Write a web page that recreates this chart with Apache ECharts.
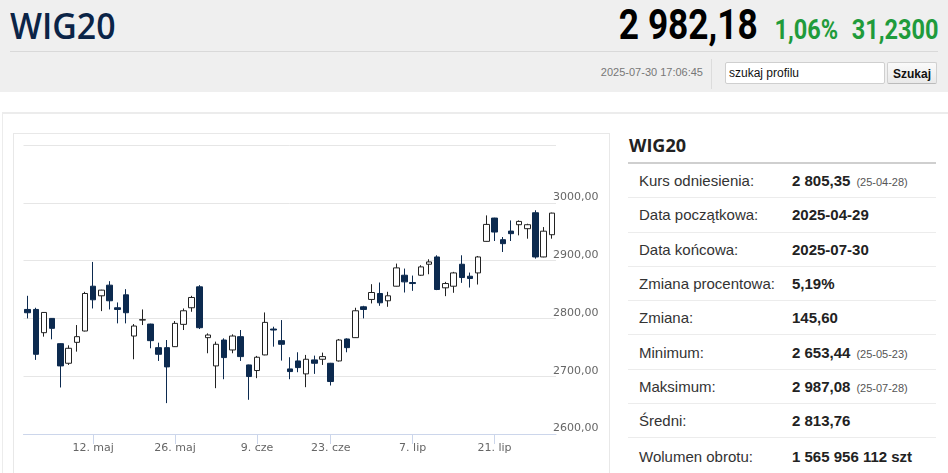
<!DOCTYPE html>
<html>
<head>
<meta charset="utf-8">
<script src="https://cdn.jsdelivr.net/npm/echarts@6/dist/echarts.min.js"></script>
<style>
  html, body { margin:0; padding:0; background:#fff; width:948px; height:473px; overflow:hidden; font-family:"Liberation Sans", Arial, sans-serif; }
  .abs { position:absolute; }
  #hdr { left:0; top:0; width:948px; height:92px; background:#efefef; }
  #title { left:10px; top:1px; font-family:"Open Sans", sans-serif; font-weight:600; font-size:36px; color:#0b2447; transform:scaleX(0.94); transform-origin:left; white-space:nowrap; }
  #hline { left:10px; top:51px; width:928px; height:1px; background:#d9d9d9; }
  #quote { right:10px; top:0px; white-space:nowrap; transform:scaleX(0.84); transform-origin:right; font-family:Roboto, sans-serif; }
  #price { font-size:42px; font-weight:700; color:#000; }
  .grn { font-size:28px; font-weight:700; color:#1f9b3b; margin-left:20px; }
  #stamp { left:560px; width:143px; top:66px; text-align:right; font-size:11px; color:#777; }
  #vsep { left:711px; top:59px; width:1px; height:30px; background:#dcdcdc; }
  #search { left:725px; top:62px; width:155px; height:20px; border:1px solid #cfcfcf; border-radius:2px; background:#fff; font-size:12px; line-height:20px; color:#111; padding-left:3px; box-sizing:content-box; }
  #btn { left:887px; top:62px; width:50px; height:22px; border:1px solid #d0d0d0; border-bottom-color:#bbb; border-radius:2px; background:linear-gradient(#fafafa,#e9e9e9); font-size:12px; font-weight:700; line-height:22px; text-align:center; color:#111; box-sizing:border-box; }
  #pline { left:2px; top:112px; width:946px; height:2px; background:#ececec; }
  #pvline { left:2px; top:112px; width:1px; height:361px; background:#ececec; }
  #box { left:13px; top:133px; width:597px; height:345px; border:1px solid #e8e8e8; box-sizing:border-box; }
  #chart { left:13px; top:134px; width:598px; height:339px; }
  #rtitle { left:629px; top:133px; font-family:"Open Sans", sans-serif; font-weight:700; font-size:18px; color:#222; }
  #rline { left:628px; top:162px; width:308px; height:2px; background:#cfcfcf; }
  table { position:absolute; left:628px; top:164px; width:308px; border-collapse:collapse; font-size:15px; color:#333; }
  td { height:33.3px; border-bottom:1px solid #ececec; padding:0; white-space:nowrap; }
  td.l { padding-left:11px; width:153px; }
  td.v { font-weight:700; color:#222; }
  .d { font-size:11px; font-weight:400; color:#555; margin-left:6px; }
</style>
</head>
<body>
<div id="hdr" class="abs"></div>
<div id="title" class="abs">WIG20</div>
<div id="hline" class="abs"></div>
<div id="quote" class="abs"><span id="price">2 982,18</span><span class="grn">1,06%</span><span class="grn" style="margin-left:16px">31,2300</span></div>
<div id="stamp" class="abs">2025-07-30 17:06:45</div>
<div id="vsep" class="abs"></div>
<div id="search" class="abs">szukaj profilu</div>
<div id="btn" class="abs">Szukaj</div>
<div id="pline" class="abs"></div>
<div id="pvline" class="abs"></div>
<div id="box" class="abs"></div>
<div id="chart" class="abs"></div>
<div id="rtitle" class="abs">WIG20</div>
<div id="rline" class="abs"></div>
<table>
  <tr><td class="l">Kurs odniesienia:</td><td class="v">2 805,35<span class="d">(25-04-28)</span></td></tr>
  <tr><td class="l">Data początkowa:</td><td class="v">2025-04-29</td></tr>
  <tr><td class="l">Data końcowa:</td><td class="v">2025-07-30</td></tr>
  <tr><td class="l">Zmiana procentowa:</td><td class="v">5,19%</td></tr>
  <tr><td class="l">Zmiana:</td><td class="v">145,60</td></tr>
  <tr><td class="l">Minimum:</td><td class="v">2 653,44<span class="d">(25-05-23)</span></td></tr>
  <tr><td class="l">Maksimum:</td><td class="v">2 987,08<span class="d">(25-07-28)</span></td></tr>
  <tr><td class="l">Średni:</td><td class="v">2 813,76</td></tr>
  <tr><td class="l" style="border-bottom:none;height:36px">Wolumen obrotu:</td><td class="v" style="border-bottom:none;height:36px">1 565 956 112 szt</td></tr>
</table>
<script>
const dates = [
  '2025-04-29','2025-04-30','2025-05-02','2025-05-05','2025-05-06','2025-05-07','2025-05-08','2025-05-09',
  '2025-05-12','2025-05-13','2025-05-14','2025-05-15','2025-05-16','2025-05-19','2025-05-20','2025-05-21',
  '2025-05-22','2025-05-23','2025-05-26','2025-05-27','2025-05-28','2025-05-29','2025-05-30','2025-06-02',
  '2025-06-03','2025-06-04','2025-06-05','2025-06-06','2025-06-09','2025-06-10','2025-06-11','2025-06-12',
  '2025-06-13','2025-06-16','2025-06-17','2025-06-18','2025-06-20','2025-06-23','2025-06-24','2025-06-25',
  '2025-06-26','2025-06-27','2025-06-30','2025-07-01','2025-07-02','2025-07-03','2025-07-04','2025-07-07',
  '2025-07-08','2025-07-09','2025-07-10','2025-07-11','2025-07-14','2025-07-15','2025-07-16','2025-07-17',
  '2025-07-18','2025-07-21','2025-07-22','2025-07-23','2025-07-24','2025-07-25','2025-07-28','2025-07-29',
  '2025-07-30'
];
const opens = [
  2815.5,2815.5,2775.3,2800.0,2756.3,2722.4,2758.6,2778.2,2855.7,2839.1,2857.5,2818.4,2840.8,2769.5,2797.1,2790.2,
  2749.4,2749.4,2751.1,2789.7,2818.4,2854.6,2766.7,2717.8,2762.6,2745.4,2768.4,2719.5,2709.8,2736.8,2781.6,2761.5,
  2712.6,2726.4,2704.0,2728.2,2729.3,2722.4,2726.4,2764.4,2766.7,2820.1,2832.8,2843.1,2830.5,2855.7,2874.7,2862.1,
  2874.7,2893.7,2906.3,2852.9,2855.7,2893.7,2873.0,2878.7,2933.3,2973.6,2936.2,2951.1,2962.1,2955.2,2982.8,2906.3,
  2944.8
];
const closes = [
  2809.8,2737.9,2810.3,2782.8,2717.8,2748.3,2768.4,2843.1,2832.2,2848.9,2830.5,2815.5,2809.8,2786.8,2797.8,2761.5,
  2737.9,2716.1,2791.4,2813.2,2836.2,2783.9,2771.3,2755.2,2732.2,2769.5,2733.9,2699.4,2732.8,2793.1,2779.9,2755.2,
  2708.0,2714.9,2729.3,2722.4,2733.9,2690.8,2762.6,2749.4,2813.2,2815.5,2844.8,2827.0,2839.1,2887.4,2863.2,2860.3,
  2889.1,2897.7,2850.0,2860.3,2878.7,2870.7,2869.0,2906.3,2962.6,2949.4,2929.3,2946.6,2967.8,2962.1,2906.3,2950.9,
  2982.18
];
const lows = [
  2800.0,2728.2,2768.4,2763.8,2680.5,2719.5,2742.5,2777.5,2817.2,2812.6,2815.5,2791.4,2791.4,2729.3,2788.5,2748.3,
  2726.4,2653.44,2750.5,2779.9,2811.5,2781.6,2739.7,2679.3,2694.8,2739.7,2726.4,2659.2,2696.6,2736.2,2751.1,2727.0,
  2694.8,2706.9,2681.0,2704.0,2719.5,2683.9,2725.3,2741.4,2766.2,2800.0,2825.9,2821.8,2820.1,2855.2,2844.8,2847.7,
  2873.6,2876.4,2848.9,2838.5,2844.3,2861.5,2853.4,2858.6,2932.8,2933.9,2914.9,2933.9,2943.7,2937.9,2903.4,2905.8,
  2937.9
];
const highs = [
  2839.1,2818.4,2811.0,2800.5,2756.8,2753.4,2788.5,2846.0,2897.7,2849.5,2864.4,2827.6,2850.6,2790.2,2815.5,2790.8,
  2758.0,2762.6,2795.4,2817.2,2839.1,2857.5,2774.1,2759.8,2765.5,2772.4,2779.9,2720.0,2735.1,2810.3,2785.6,2797.1,
  2732.8,2741.4,2736.8,2735.6,2740.8,2723.0,2764.4,2765.5,2818.4,2821.8,2859.2,2862.1,2846.0,2894.8,2886.2,2874.1,
  2892.0,2902.3,2909.2,2863.2,2880.5,2909.2,2879.3,2908.0,2978.2,2974.1,2940.8,2969.5,2969.5,2963.8,2987.08,2958.0,
  2983.0
];
const tickLabels = {
  '2025-05-12':'12. maj','2025-05-26':'26. maj','2025-06-09':'9. cze',
  '2025-06-23':'23. cze','2025-07-07':'7. lip','2025-07-21':'21. lip'
};
const yMin = 2600, yMax = 3100, yStep = 100;

const ohlc = dates.map((d,i)=>[opens[i],closes[i],lows[i],highs[i]]);
const chart = echarts.init(document.getElementById('chart'), null, {renderer:'canvas'});
const isTick = (i,v)=>Object.prototype.hasOwnProperty.call(tickLabels, v);
chart.setOption({
  animation:false,
  grid:{left:10.5, right:55, top:11, bottom:39},
  xAxis:{
    type:'category', data:dates, boundaryGap:true,
    axisLine:{lineStyle:{color:'#ccd6eb', width:1}},
    axisTick:{show:true, interval:isTick, alignWithLabel:true, length:10, lineStyle:{color:'#ccd6eb'}},
    axisLabel:{interval:isTick, formatter:v=>tickLabels[v]||'', color:'#666', fontSize:11, fontFamily:'DejaVu Sans', margin:9},
    splitLine:{show:false}
  },
  yAxis:{
    type:'value', position:'right', min:yMin, max:yMax, interval:yStep, scale:true,
    axisLine:{show:false}, axisTick:{show:false},
    splitLine:{lineStyle:{color:'#e6e6e6', width:1}},
    axisLabel:{
      formatter:v=> v===yMax ? '' : v.toFixed(2).replace('.',','),
      color:'#666', fontSize:11, fontFamily:'DejaVu Sans', margin:-3, align:'left', verticalAlign:'bottom', padding:0
    }
  },
  series:[{
    type:'candlestick', data:ohlc, barWidth:6,
    itemStyle:{color:'#ffffff', color0:'#0c2a4f', borderColor:'#222222', borderColor0:'#0c2a4f', borderWidth:1}
  }]
});
</script>
</body>
</html>
